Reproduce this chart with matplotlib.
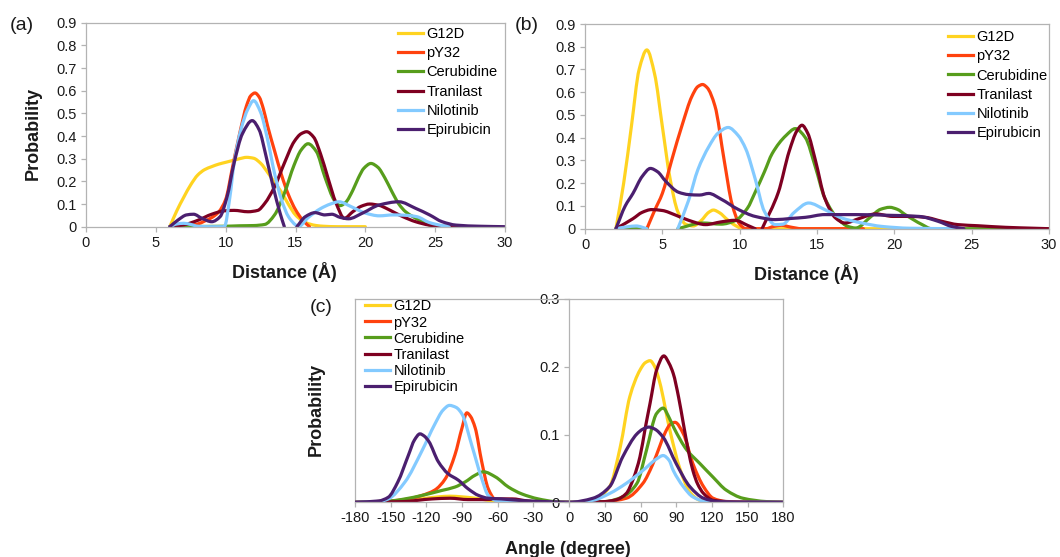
import numpy as np
import matplotlib
matplotlib.use("Agg")
import matplotlib.pyplot as plt
from matplotlib.path import Path
from matplotlib.patches import PathPatch
from matplotlib.lines import Line2D
from matplotlib.ticker import FuncFormatter

plt.rcParams['font.family'] = ['Liberation Sans', 'DejaVu Sans']
plt.rcParams['axes.unicode_minus'] = False

nan = np.nan

SERIES = ["G12D", "pY32", "Cerubidine", "Tranilast", "Nilotinib", "Epirubicin"]
COLORS = ["#ffd320", "#ff420e", "#579d1c", "#7e0021", "#83caff", "#4b1f6f"]

# ---- (a) distance distributions ----
A_G12D_X = [6, 6.5, 7, 7.5, 8, 8.5, 9, 9.5, 10, 10.5, 11, 11.5, 12, 12.5, 13, 13.5, 14, 14.5, 15, 15.5, 16, 16.5, 17, 18, 20]
A_G12D_Y = [0, 0.07, 0.13, 0.185, 0.228, 0.252, 0.265, 0.276, 0.284, 0.292, 0.3, 0.306, 0.302, 0.28, 0.24, 0.195, 0.152, 0.098, 0.052, 0.026, 0.012, 0.005, 0.002, 0, 0]
A_PY32_X = [6, 7, 8, 8.5, 9, 9.5, 10, 10.5, 11, 11.5, 11.8, 12.1, 12.4, 12.7, 13, 13.5, 14, 14.5, 15, 15.5, 16]
A_PY32_Y = [0, 0.003, 0.012, 0.025, 0.04, 0.065, 0.12, 0.265, 0.41, 0.535, 0.578, 0.59, 0.572, 0.52, 0.445, 0.335, 0.228, 0.14, 0.075, 0.03, 0]
A_CERU_X = [6, 8, 10, 11, 12, 12.8, 13.5, 14.2, 14.9, 15.4, 15.9, 16.5, 17.1, 17.8, 18.2, 18.6, 19.1, 19.5, 19.9, 20.4, 20.9, 21.4, 21.9, 22.4, 22.9, 23.9, 24.6, 25.2, 28]
A_CERU_Y = [0, 0.001, 0.002, 0.004, 0.005, 0.01, 0.052, 0.147, 0.272, 0.338, 0.366, 0.331, 0.22, 0.115, 0.093, 0.108, 0.16, 0.215, 0.258, 0.279, 0.262, 0.215, 0.155, 0.1, 0.065, 0.028, 0.007, 0, 0]
A_TRAN_X = [6, 7, 8, 9, 9.9, 10.6, 11.6, 12.3, 12.8, 13.5, 14.2, 14.9, 15.4, 15.8, 16.3, 16.8, 17.3, 17.9, 18.5, 19.1, 19.7, 20.3, 21, 21.5, 22.1, 22.7, 23.6, 24.6, 25.5, 26.5, 28]
A_TRAN_Y = [0, 0.008, 0.028, 0.055, 0.07, 0.072, 0.066, 0.072, 0.103, 0.176, 0.28, 0.375, 0.41, 0.419, 0.395, 0.32, 0.22, 0.105, 0.037, 0.066, 0.09, 0.1, 0.094, 0.081, 0.062, 0.044, 0.022, 0.007, 0.002, 0, 0]
A_NILO_X = [6, 6.5, 7, 7.5, 8, 9, 9.9, 10.3, 10.6, 11.1, 11.6, 12, 12.5, 13, 13.5, 14, 14.5, 15, 15.2, 15.9, 16.8, 17.5, 18.1, 19, 20, 21, 22, 23, 23.7, 24.6, 25.5, 26]
A_NILO_Y = [0, 0.012, 0.015, 0.01, 0.002, 0, 0, 0.13, 0.28, 0.43, 0.52, 0.556, 0.505, 0.385, 0.235, 0.118, 0.044, 0.008, 0, 0.04, 0.08, 0.1, 0.11, 0.088, 0.06, 0.048, 0.052, 0.05, 0.044, 0.018, 0.005, 0]
A_EPIR_X = [6, 6.6, 7.2, 7.7, 8.3, 9, 9.6, 10.1, 10.6, 11.2, 11.9, 12.4, 12.9, 13.4, 13.9, 14.2, 14.6, 15.1, 15.7, 16.4, 17.1, 17.6, 18.2, 18.8, 19.8, 21, 22.4, 23.6, 24.6, 25.5, 26.5, 28.2, 30]
A_EPIR_Y = [0, 0.03, 0.052, 0.055, 0.037, 0.022, 0.044, 0.132, 0.28, 0.41, 0.468, 0.427, 0.309, 0.176, 0.059, 0, nan, 0, 0.044, 0.062, 0.052, 0.055, 0.041, 0.035, 0.06, 0.096, 0.11, 0.081, 0.052, 0.022, 0.007, 0.002, 0]

# ---- (b) distance distributions ----
B_G12D_X = [2, 2.5, 3, 3.5, 4, 4.5, 5, 5.5, 6, 6.5, 7, 7.5, 8, 8.3, 8.7, 9.2, 9.7, 10.2, 16, 24]
B_G12D_Y = [0, 0.2, 0.45, 0.7, 0.786, 0.68, 0.45, 0.22, 0.075, 0.02, 0.012, 0.035, 0.072, 0.082, 0.07, 0.04, 0.015, 0, 0, 0]
B_PY32_X = [4, 4.5, 5, 5.6, 6.3, 6.9, 7.3, 7.6, 7.9, 8.4, 9.0, 9.5, 10, 10.4, 11.7, 12.2, 12.7, 13.3, 14, 18]
B_PY32_Y = [0, 0.08, 0.155, 0.3, 0.46, 0.58, 0.625, 0.634, 0.62, 0.54, 0.3, 0.11, 0.02, 0, 0, 0.01, 0.015, 0.007, 0, 0]
B_CERU_X = [2, 4, 4.5, 6, 7.6, 8.8, 9.7, 10.5, 11, 11.6, 12.1, 13, 13.6, 14.25, 14.9, 15.5, 16.4, 17, 17.5, 18.5, 19.1, 19.7, 20.2, 20.7, 21.8, 22.4, 30]
B_CERU_Y = [0, 0, nan, 0, 0.025, 0.02, 0.035, 0.09, 0.16, 0.25, 0.33, 0.41, 0.44, 0.4, 0.27, 0.135, 0.04, 0.01, 0.003, 0.054, 0.085, 0.094, 0.085, 0.062, 0.018, 0, 0]
B_TRAN_X = [2, 3.1, 3.7, 4.3, 5.0, 5.85, 6.7, 7.8, 8.8, 9.7, 10.5, 11.0, 11.2, 11.45, 12.5, 13.2, 13.7, 14.03, 14.4, 14.9, 15.5, 16.2, 16.8, 17.7, 18.8, 19.9, 21, 22, 23.1, 24.1, 25.4, 27.2, 29, 30]
B_TRAN_Y = [0, 0.044, 0.072, 0.084, 0.08, 0.06, 0.037, 0.018, 0.03, 0.037, 0.015, 0, nan, 0, 0.16, 0.34, 0.43, 0.455, 0.42, 0.3, 0.135, 0.047, 0.025, 0.044, 0.065, 0.054, 0.054, 0.05, 0.032, 0.018, 0.013, 0.006, 0.002, 0]
B_NILO_X = [2, 2.7, 3.3, 4, 4.5, 6, 6.7, 7.3, 8, 8.6, 9.26, 9.9, 10.4, 11, 11.6, 12.3, 12.8, 13.5, 14.46, 15.5, 16.6, 17.9, 19.2, 21, 24]
B_NILO_Y = [0, 0.008, 0.012, 0, nan, 0, 0.125, 0.26, 0.36, 0.42, 0.445, 0.41, 0.35, 0.22, 0.076, 0.018, 0.02, 0.07, 0.113, 0.084, 0.047, 0.025, 0.01, 0.002, 0]
B_EPIR_X = [2, 2.6, 3.1, 3.7, 4.23, 4.7, 5.2, 6.06, 6.7, 7.4, 8, 8.8, 9.9, 11, 12.3, 13.3, 14.25, 15.5, 17.5, 19.6, 21.6, 22.85, 23.7, 24.5]
B_EPIR_Y = [0, 0.1, 0.155, 0.23, 0.265, 0.25, 0.21, 0.16, 0.15, 0.148, 0.155, 0.13, 0.085, 0.054, 0.04, 0.045, 0.05, 0.062, 0.062, 0.059, 0.054, 0.032, 0.01, 0]

# ---- (c) angle distributions ----
C_G12D_X = [-180, -150, -138, -124, -110, -100, -90, -79, -68, -56, -40, 0, 20, 34, 43, 51, 59.5, 64, 68, 72, 76, 84.7, 93, 101.5, 110, 120, 140, 180]
C_G12D_Y = [0, 0.001, 0.002, 0.005, 0.008, 0.009, 0.008, 0.006, 0.003, 0.001, 0, 0, 0.003, 0.023, 0.082, 0.156, 0.195, 0.206, 0.209, 0.2, 0.178, 0.106, 0.05, 0.015, 0.003, 0.001, 0, 0]
C_PY32_X = [-180, -150, -135, -124, -113, -104, -96, -90, -86, -83, -79, -73.5, -68, -62, -50, -30, 0, 30, 48, 62, 70, 76, 81, 85, 89, 96, 104, 113, 121, 132, 150, 180]
C_PY32_Y = [0, 0.002, 0.005, 0.01, 0.018, 0.035, 0.07, 0.11, 0.132, 0.127, 0.11, 0.06, 0.02, 0.004, 0.001, 0, 0, 0.001, 0.006, 0.028, 0.055, 0.082, 0.104, 0.115, 0.118, 0.101, 0.057, 0.023, 0.006, 0.001, 0, 0]
C_CERU_X = [-180, -150, -138, -124, -107, -96, -87.5, -79, -72, -62, -51, -40, -26, -12, 0, 30, 45, 57, 65, 73.5, 79, 84, 88, 99, 110, 121, 132, 146, 166, 180]
C_CERU_Y = [0, 0.002, 0.005, 0.01, 0.0175, 0.0225, 0.03, 0.04, 0.045, 0.0375, 0.0225, 0.0125, 0.005, 0.001, 0, 0.001, 0.008, 0.028, 0.077, 0.131, 0.139, 0.125, 0.11, 0.077, 0.057, 0.037, 0.018, 0.006, 0.001, 0]
C_TRAN_X = [-180, -140, -115, -100, -85, -70, -60, -48, -35, -20, 0, 30, 40, 48, 54, 59.5, 64, 68, 73.5, 79.6, 84, 87.5, 92, 96, 100, 104, 108, 113, 121, 135, 180]
C_TRAN_Y = [0, 0.001, 0.005, 0.006, 0.004, 0.004, 0.005, 0.005, 0.002, 0, 0, 0.001, 0.004, 0.013, 0.035, 0.067, 0.11, 0.146, 0.195, 0.216, 0.205, 0.19, 0.155, 0.116, 0.078, 0.047, 0.027, 0.013, 0.003, 0.001, 0]
C_NILO_X = [-180, -160, -152, -138, -124, -113, -106, -100.6, -95, -90, -82, -73.5, -68, -60, -40, 0, 20, 34, 48, 62, 73.5, 79, 84, 87.5, 96, 104, 115, 130, 180]
C_NILO_Y = [0, 0.001, 0.005, 0.03, 0.075, 0.115, 0.136, 0.143, 0.14, 0.13, 0.085, 0.035, 0.01, 0.002, 0, 0, 0.003, 0.013, 0.028, 0.047, 0.064, 0.069, 0.062, 0.047, 0.023, 0.008, 0.001, 0, 0]
C_EPIR_X = [-180, -160, -152, -144, -135, -130, -125.4, -122, -118, -110, -102, -93, -85, -76, -68, -57, -40, -20, 0, 20, 34, 45, 57, 62, 67, 72, 79, 90, 101.5, 113, 125, 140, 180]
C_EPIR_Y = [0, 0.002, 0.0075, 0.03, 0.07, 0.092, 0.101, 0.098, 0.09, 0.06, 0.0425, 0.0325, 0.02, 0.01, 0.006, 0.005, 0.0025, 0.001, 0, 0.006, 0.023, 0.067, 0.101, 0.108, 0.111, 0.108, 0.096, 0.057, 0.023, 0.006, 0.001, 0, 0]

PANEL_A = [(A_G12D_X, A_G12D_Y), (A_PY32_X, A_PY32_Y), (A_CERU_X, A_CERU_Y),
           (A_TRAN_X, A_TRAN_Y), (A_NILO_X, A_NILO_Y), (A_EPIR_X, A_EPIR_Y)]
PANEL_B = [(B_G12D_X, B_G12D_Y), (B_PY32_X, B_PY32_Y), (B_CERU_X, B_CERU_Y),
           (B_TRAN_X, B_TRAN_Y), (B_NILO_X, B_NILO_Y), (B_EPIR_X, B_EPIR_Y)]
PANEL_C = [(C_G12D_X, C_G12D_Y), (C_PY32_X, C_PY32_Y), (C_CERU_X, C_CERU_Y),
           (C_TRAN_X, C_TRAN_Y), (C_NILO_X, C_NILO_Y), (C_EPIR_X, C_EPIR_Y)]

DIST_XTICKS = [0, 5, 10, 15, 20, 25, 30]
DIST_YTICKS = [0, 0.1, 0.2, 0.3, 0.4, 0.5, 0.6, 0.7, 0.8, 0.9]
ANGLE_XTICKS = [-180, -150, -120, -90, -60, -30, 0, 30, 60, 90, 120, 150, 180]
ANGLE_YTICKS = [0, 0.1, 0.2, 0.3]

GRAY = "#b3b3b3"
TXT = "#1a1a1a"
LW = 2.3
W, H = 1060, 557


def fx(px):
    return px / W


def fy(py):
    return 1 - py / H


def pchip_slopes(x, y):
    # shape-preserving tangents, used only to bend the drawn line between readings
    h = np.diff(x)
    d = np.diff(y) / h
    m = np.zeros_like(y)
    m[0], m[-1] = d[0], d[-1]
    for k in range(1, len(x) - 1):
        if d[k - 1] * d[k] <= 0:
            m[k] = 0.0
        else:
            w1 = 2 * h[k] + h[k - 1]
            w2 = h[k] + 2 * h[k - 1]
            m[k] = (w1 + w2) / (w1 / d[k - 1] + w2 / d[k])
    return m


def smooth_path(xs, ys):
    xs = np.asarray(xs, float)
    ys = np.asarray(ys, float)
    verts, codes = [], []
    ok = ~np.isnan(ys)
    runs = np.split(np.arange(len(xs)), np.where(~ok)[0])
    for r in runs:
        r = r[ok[r]]
        if len(r) < 2:
            continue
        x, y = xs[r], ys[r]
        m = pchip_slopes(x, y)
        verts.append((x[0], y[0]))
        codes.append(Path.MOVETO)
        for i in range(len(x) - 1):
            h = x[i + 1] - x[i]
            verts += [(x[i] + h / 3, y[i] + m[i] * h / 3),
                      (x[i + 1] - h / 3, y[i + 1] - m[i + 1] * h / 3),
                      (x[i + 1], y[i + 1])]
            codes += [Path.CURVE4] * 3
    return Path(verts, codes)


def style_axes(ax):
    for s in ax.spines.values():
        s.set_color(GRAY)
        s.set_linewidth(0.9)
    ax.tick_params(direction="out", length=3.5, width=0.9, color=GRAY,
                   labelsize=10.5, labelcolor=TXT, pad=3)
    ax.yaxis.set_major_formatter(FuncFormatter(lambda v, p: f"{v:g}"))
    ax.xaxis.set_major_formatter(FuncFormatter(lambda v, p: f"{v:g}"))


def draw_lines(ax, panel):
    handles = []
    for (xs, ys), name, col in zip(panel, SERIES, COLORS):
        ax.add_patch(PathPatch(smooth_path(xs, ys), fill=False, edgecolor=col, lw=LW,
                               capstyle="round", joinstyle="round"))
        handles.append(Line2D([], [], color=col, lw=LW, label=name))
    return handles


def add_legend(ax, handles, x, y, spacing):
    ax.legend(handles=handles, loc="upper left", bbox_to_anchor=(fx(x), fy(y)),
              bbox_transform=fig.transFigure, frameon=False, fontsize=10.5,
              handlelength=1.7, handletextpad=0.25, labelspacing=spacing,
              borderpad=0, borderaxespad=0)


fig = plt.figure(figsize=(10.6, 5.57), dpi=100)

# (a)
ax_a = fig.add_axes([fx(86), fy(226.7), fx(505 - 86), (226.7 - 22.7) / H])
hs = draw_lines(ax_a, PANEL_A)
ax_a.set_xlim(0, 30)
ax_a.set_ylim(0, 0.9)
ax_a.set_xticks(DIST_XTICKS)
ax_a.set_yticks(DIST_YTICKS)
style_axes(ax_a)
add_legend(ax_a, hs, 398, 27, 0.36)

# (b)
ax_b = fig.add_axes([fx(585), fy(228.7), fx(1049 - 585), (228.7 - 24) / H])
hs = draw_lines(ax_b, PANEL_B)
ax_b.set_xlim(0, 30)
ax_b.set_ylim(0, 0.9)
ax_b.set_xticks(DIST_XTICKS)
ax_b.set_yticks(DIST_YTICKS)
style_axes(ax_b)
add_legend(ax_b, hs, 948, 30, 0.36)

# (c)
ax_c = fig.add_axes([fx(355), fy(502.3), fx(783.3 - 355), (502.3 - 299) / H])
hs = draw_lines(ax_c, PANEL_C)
ax_c.set_xlim(-180, 180)
ax_c.set_ylim(0, 0.3)
ax_c.set_xticks(ANGLE_XTICKS)
ax_c.set_yticks(ANGLE_YTICKS)
style_axes(ax_c)
ax_c.spines["left"].set_position(("data", 0))
ax_c.axvline(-180, color=GRAY, lw=0.9, clip_on=False, zorder=0)
add_legend(ax_c, hs, 365, 299.5, 0.14)

# panel letters and axis titles
fig.text(fx(22), fy(25), "(a)", fontsize=14, ha="center", va="center", color=TXT)
fig.text(fx(527), fy(26), "(b)", fontsize=14, ha="center", va="center", color=TXT)
fig.text(fx(321), fy(308), "(c)", fontsize=14, ha="center", va="center", color=TXT)

fig.text(fx(33.5), fy(133), "Probability", fontsize=13, fontweight="bold",
         rotation=90, ha="center", va="center", color=TXT)
fig.text(fx(316.5), fy(409), "Probability", fontsize=13, fontweight="bold",
         rotation=90, ha="center", va="center", color=TXT)
fig.text(fx(284.5), fy(278), "Distance (Å)", fontsize=13, fontweight="bold",
         ha="center", va="baseline", color=TXT)
fig.text(fx(806), fy(280), "Distance (Å)", fontsize=13, fontweight="bold",
         ha="center", va="baseline", color=TXT)
fig.text(fx(568), fy(554), "Angle (degree)", fontsize=13, fontweight="bold",
         ha="center", va="baseline", color=TXT)

fig.savefig("out.png", dpi=100)
